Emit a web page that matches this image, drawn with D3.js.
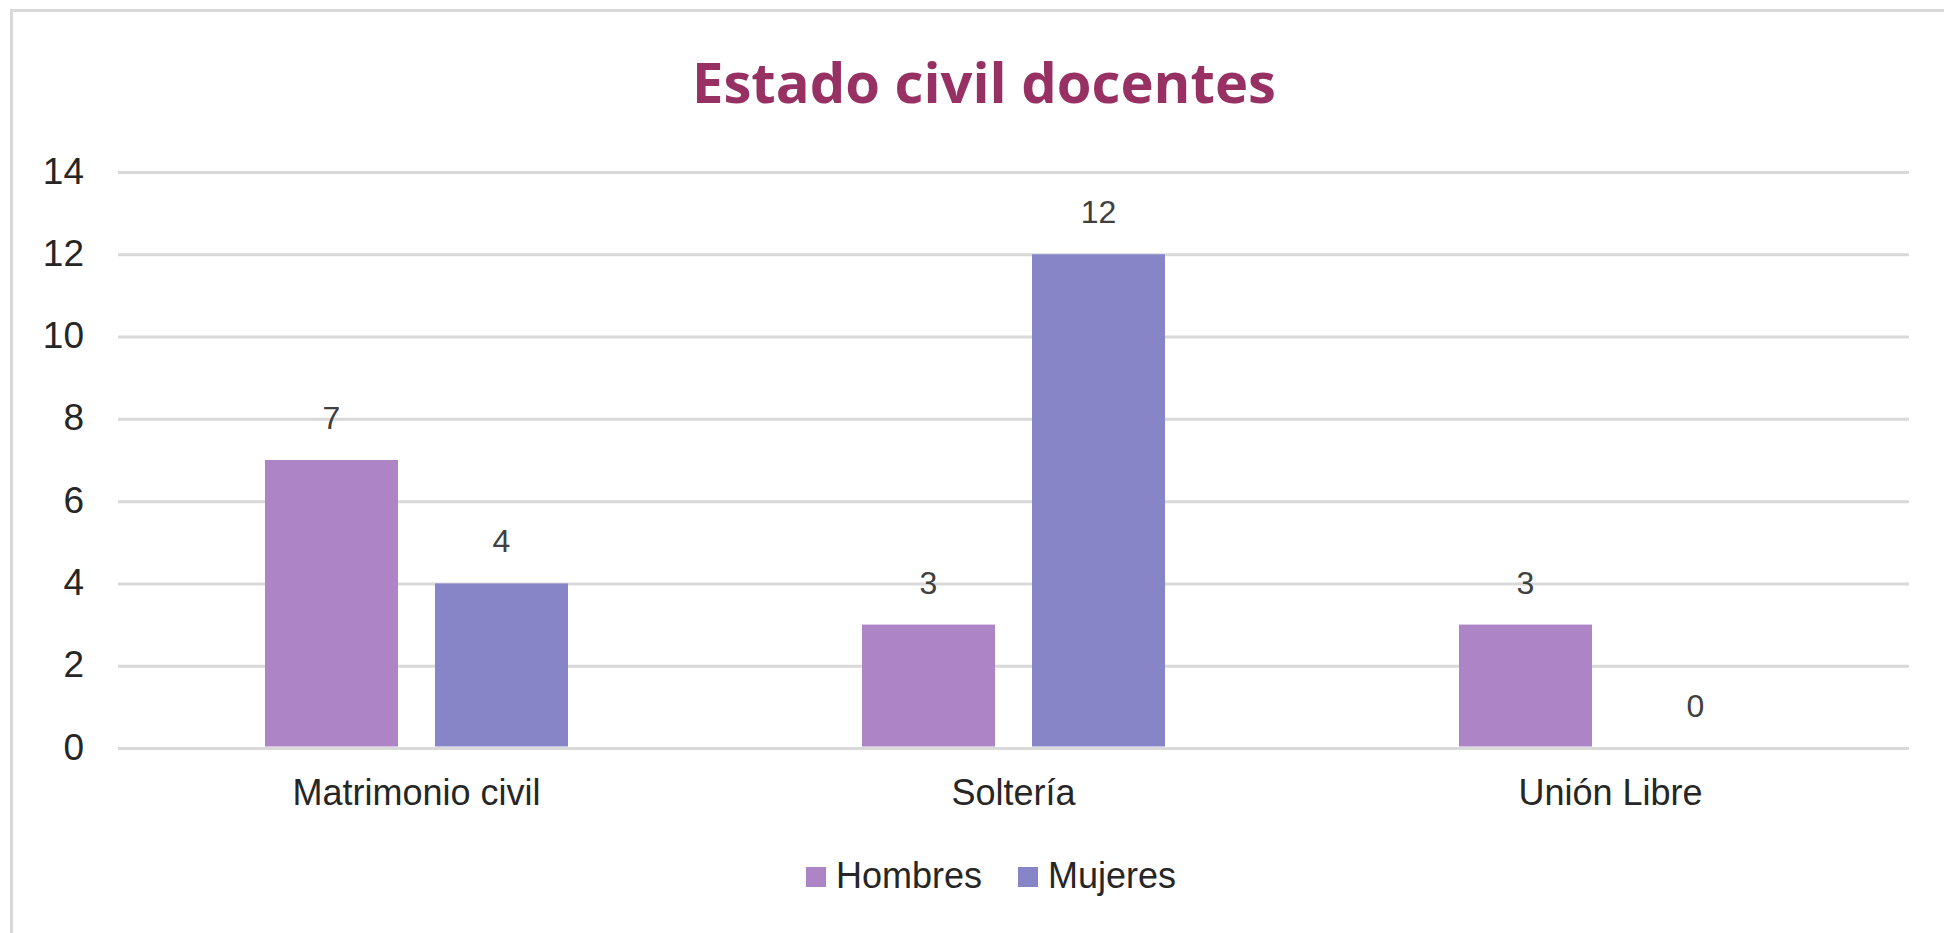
<!DOCTYPE html>
<html>
<head>
<meta charset="utf-8">
<script src="https://cdn.jsdelivr.net/npm/d3@7"></script>
<style>
  html, body { margin: 0; padding: 0; background: #fff; }
  svg { display: block; }
  text { font-family: "Liberation Sans", Arial, sans-serif; }
</style>
</head>
<body>
<svg id="chart" width="1944" height="933"></svg>
<script>
'use strict';

// Chart data
const categories = ['Matrimonio civil', 'Soltería', 'Unión Libre'];
const seriesNames = ['Hombres', 'Mujeres'];
const hombres = [7, 3, 3];
const mujeres = [4, 12, 0];
const yTicks = [0, 2, 4, 6, 8, 10, 12, 14];
const titleText = 'Estado civil docentes';

const COLORS = {Hombres: '#ad84c6', Mujeres: '#8784c7'};
const GRID = '#d9d9d9';

const svg = d3.select('#chart');
const W = 1944, H = 933;

// plot area in px
const plot = {left: 118, right: 1909, top: 172, bottom: 748};

// outer chart border (only top/left edges are visible in the frame)
svg.append('path')
    .attr('d', 'M11.5,' + (H + 10) + 'V10.5H' + (W + 10))
    .attr('fill', 'none')
    .attr('stroke', GRID)
    .attr('stroke-width', 3);

// title, fitted to the reference width
const title = svg.append('text')
    .attr('x', 984)
    .attr('y', 103)
    .attr('text-anchor', 'middle')
    .style('font-family', '"Open Sans", "Noto Sans", sans-serif')
    .style('font-weight', 700)
    .style('font-size', '56px')
    .attr('fill', '#983163')
    .text(titleText);
const tw = title.node().getComputedTextLength();
title.style('font-size', (56 * 584 / tw).toFixed(2) + 'px');

const x0 = d3.scaleBand()
    .domain(categories)
    .range([plot.left, plot.right])
    .paddingInner(0)
    .paddingOuter(0);

const x1 = d3.scaleBand()
    .domain(seriesNames)
    .range([0, x0.bandwidth()])
    .paddingInner(0.2176)
    .paddingOuter(0.8647);

const y = d3.scaleLinear()
    .domain([0, 14])
    .range([plot.bottom, plot.top]);

// gridlines
const yAxis = d3.axisLeft(y)
    .tickValues(yTicks)
    .tickSize(-(plot.right - plot.left))
    .tickPadding(34)
    .tickFormat(d3.format('d'));

const gy = svg.append('g')
    .attr('transform', 'translate(' + plot.left + ',0)')
    .call(yAxis);
gy.select('.domain').remove();
gy.selectAll('.tick line')
    .attr('stroke', GRID)
    .attr('stroke-width', 3);
gy.selectAll('.tick text')
    .attr('fill', '#262626')
    .attr('dy', '0.3em')
    .style('font-size', '37px')
    .style('font-family', '"Liberation Sans", Arial, sans-serif');

// bars
const rows = categories.map((c, i) => ({
    cat: c,
    values: [
        {key: 'Hombres', value: hombres[i]},
        {key: 'Mujeres', value: mujeres[i]}
    ]
}));

const groups = svg.append('g')
    .selectAll('g.cat')
    .data(rows)
    .join('g')
    .attr('class', 'cat')
    .attr('transform', d => 'translate(' + x0(d.cat) + ',0)');

groups.selectAll('rect')
    .data(d => d.values)
    .join('rect')
    .attr('x', d => x1(d.key))
    .attr('y', d => y(d.value))
    .attr('width', x1.bandwidth())
    .attr('height', d => Math.max(0, y(0) - 1.5 - y(d.value)))
    .attr('fill', d => COLORS[d.key]);

// data labels
groups.selectAll('text.lbl')
    .data(d => d.values)
    .join('text')
    .attr('class', 'lbl')
    .attr('x', d => x1(d.key) + x1.bandwidth() / 2)
    .attr('y', d => y(d.value) - 31)
    .attr('text-anchor', 'middle')
    .attr('fill', '#404040')
    .style('font-size', '32px')
    .text(d => d.value);

// category labels
svg.append('g')
    .selectAll('text')
    .data(categories)
    .join('text')
    .attr('x', d => x0(d) + x0.bandwidth() / 2)
    .attr('y', 805)
    .attr('text-anchor', 'middle')
    .attr('fill', '#262626')
    .style('font-size', '36px')
    .text(d => d);

// legend
const legendX = [806, 1018];
const legend = svg.append('g')
    .selectAll('g')
    .data(seriesNames)
    .join('g')
    .attr('transform', (d, i) => 'translate(' + legendX[i] + ',867)');

legend.append('rect')
    .attr('width', 20)
    .attr('height', 20)
    .attr('fill', d => COLORS[d]);

legend.append('text')
    .attr('x', 30)
    .attr('y', 21)
    .attr('fill', '#262626')
    .style('font-size', '36px')
    .text(d => d);
</script>
</body>
</html>
